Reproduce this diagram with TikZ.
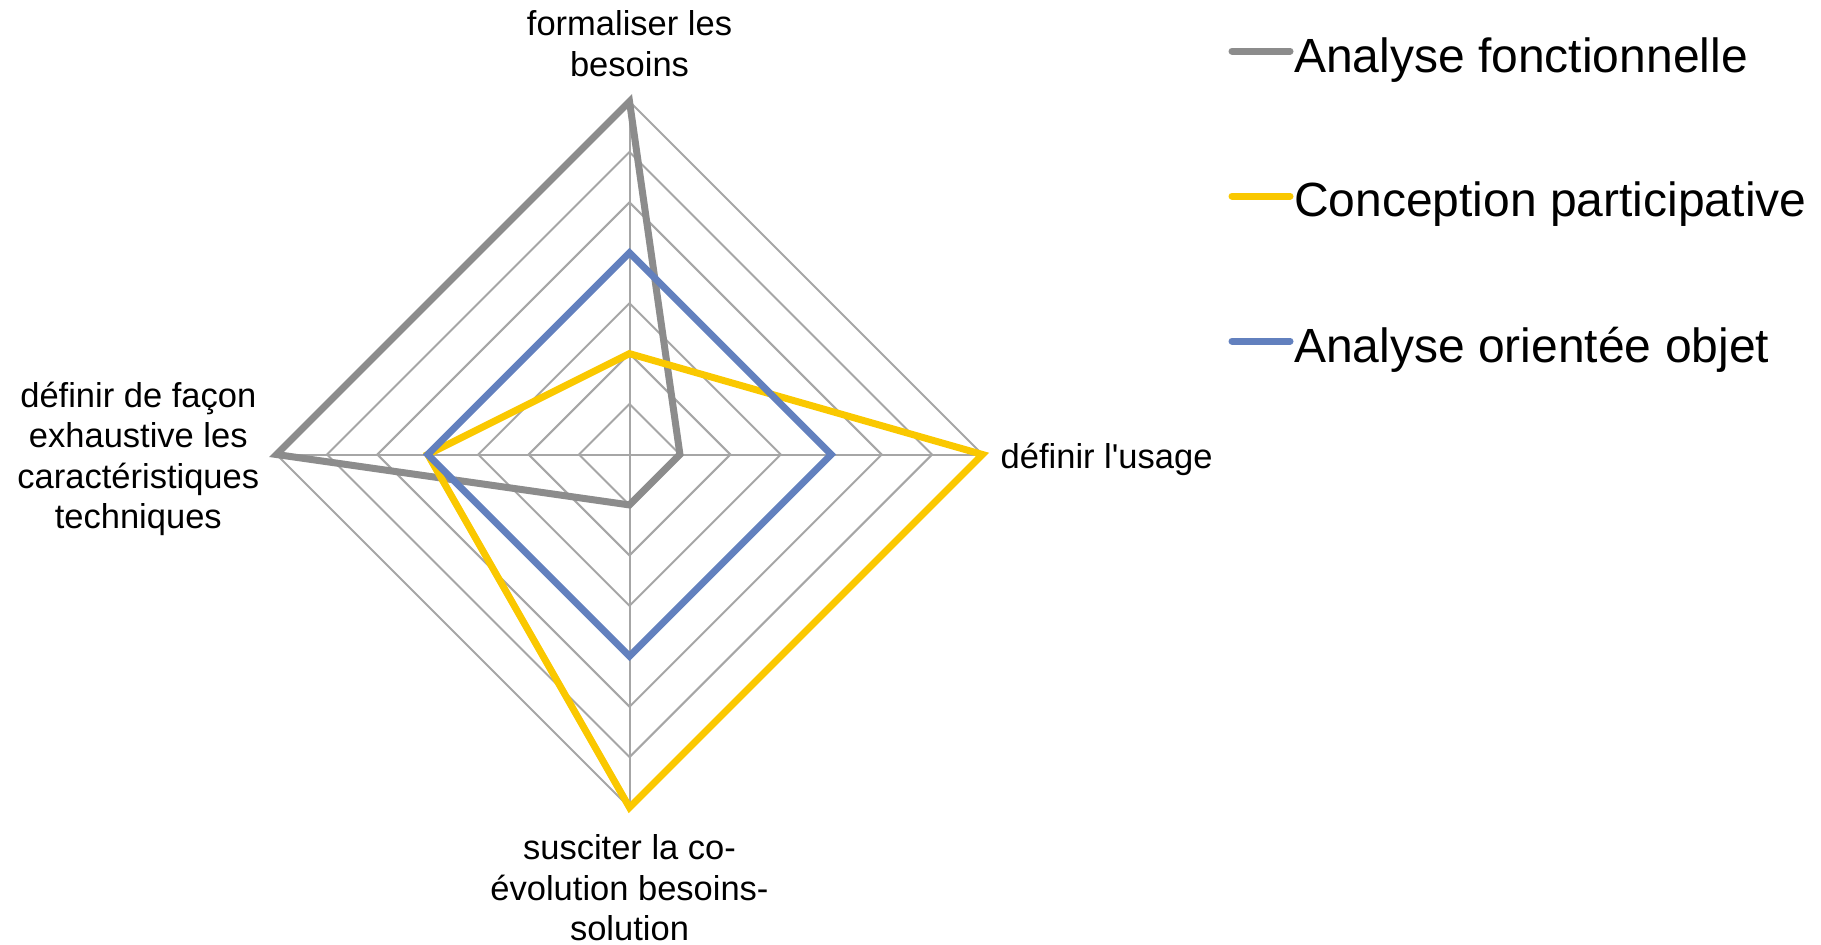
\documentclass[tikz,border=0pt]{standalone}
\usepackage{fontspec}
\setmainfont{Liberation Sans}
\definecolor{gridgray}{HTML}{A6A6A6}
\definecolor{sgray}{HTML}{8C8C8C}
\definecolor{syellow}{HTML}{FAC800}
\definecolor{sblue}{HTML}{6280BE}
\begin{document}
\begin{tikzpicture}[x=1pt,y=-1pt,
  grid/.style={draw=gridgray, line width=2pt},
  series/.style={line width=7pt, miter limit=25},
  axlabel/.style={font=\fontsize{34.5}{40.5}\selectfont, inner sep=0pt, align=center},
  legtext/.style={font=\fontsize{48}{56}\selectfont, inner sep=0pt, anchor=base west},
  legline/.style={line width=7pt, line cap=round}]
\useasboundingbox (0,0) rectangle (1821,945);
\def\cx{629.5}
\def\cy{454.5}
\def\u{50.43}
\coordinate (O) at (\cx,\cy);
% grid rings
\foreach \k in {1,...,7}{
  \draw[grid] (\cx,{\cy-\k*\u}) -- ({\cx+\k*\u},\cy) -- (\cx,{\cy+\k*\u}) -- ({\cx-\k*\u},\cy) -- cycle;
}
% axes
\coordinate (T) at (\cx,{\cy-7*\u});
\coordinate (R) at ({\cx+7*\u},\cy);
\coordinate (B) at (\cx,{\cy+7*\u});
\coordinate (L) at ({\cx-7*\u},\cy);
\draw[grid] (O) -- (T);
\draw[grid] (O) -- (R);
\draw[grid] (O) -- (B);
\draw[grid] (O) -- (L);
% series: Analyse fonctionnelle (7,1,1,7)
\draw[series, draw=sgray] (\cx,{\cy-7*\u}) -- ({\cx+1*\u},\cy) -- (\cx,{\cy+1*\u}) -- ({\cx-7*\u},\cy) -- cycle;
% Conception participative (2,7,7,4)
\draw[series, draw=syellow] (\cx,{\cy-2*\u}) -- ({\cx+7*\u},\cy) -- (\cx,{\cy+7*\u}) -- ({\cx-4*\u},\cy) -- cycle;
% Analyse orientee objet (4,4,4,4)
\draw[series, draw=sblue] (\cx,{\cy-4*\u}) -- ({\cx+4*\u},\cy) -- (\cx,{\cy+4*\u}) -- ({\cx-4*\u},\cy) -- cycle;
% axis labels (base anchor = baseline of last line)
\node[axlabel, anchor=base] (lt) at (\cx,76) {formaliser les\\besoins};
\node[axlabel, anchor=base west] (lr) at (1000.5,468.5) {définir l\textquotesingle usage};
\node[axlabel, anchor=base] (ll) at (138.3,528.5) {définir de façon\\exhaustive les\\caractéristiques\\techniques};
\node[axlabel, anchor=base] (lb) at (\cx,940.5) {susciter la co-\\évolution besoins-\\solution};
% legend
\coordinate (g1) at (1232,51); \coordinate (g2) at (1290,51);
\coordinate (y1) at (1232,196); \coordinate (y2) at (1290,196);
\coordinate (b1) at (1232,341); \coordinate (b2) at (1290,341);
\draw[legline, draw=sgray] (g1) -- (g2);
\draw[legline, draw=syellow] (y1) -- (y2);
\draw[legline, draw=sblue] (b1) -- (b2);
\node[legtext] (t1) at (1294,72) {Analyse fonctionnelle};
\node[legtext] (t2) at (1294,216) {Conception participative};
\node[legtext] (t3) at (1294,362) {Analyse orientée objet};
\end{tikzpicture}
\end{document}
